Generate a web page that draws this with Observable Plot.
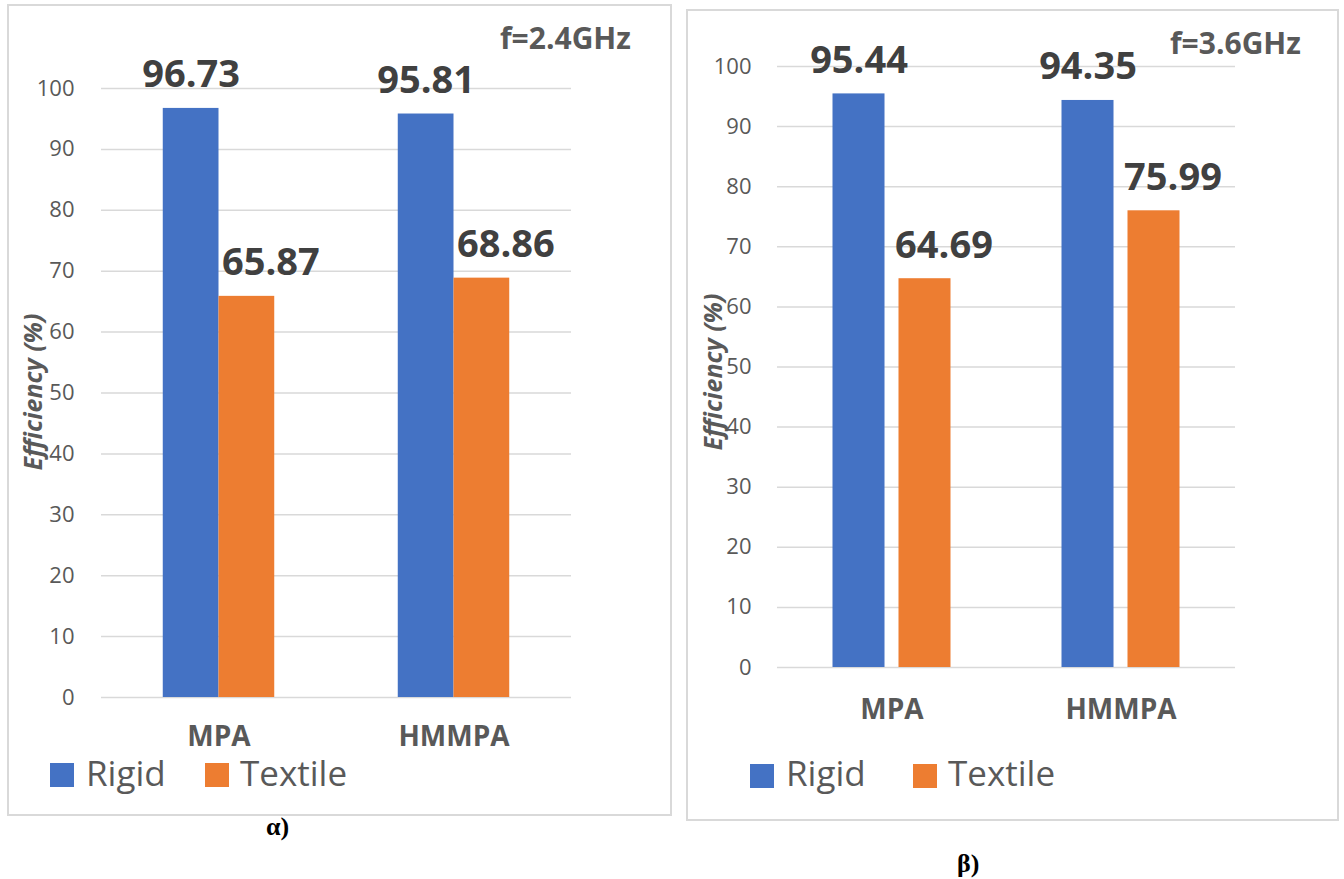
<!DOCTYPE html>
<html><head><meta charset="utf-8">
<script src="https://cdn.jsdelivr.net/npm/d3@7"></script>
<script src="https://cdn.jsdelivr.net/npm/@observablehq/plot@0.6"></script>
<style>
body{margin:0;background:#fff;font-family:"Open Sans",sans-serif;}
#page{position:relative;width:1344px;height:879px;overflow:hidden;background:#fff;}
.panel{position:absolute;border:2px solid #d9d9d9;box-sizing:border-box;}
.abs{position:absolute;white-space:nowrap;line-height:1;}
.plot{position:absolute;}
</style></head>
<body><div id="page"></div>
<script>
const categories = ["MPA", "HMMPA"];
const seriesNames = ["Rigid", "Textile"];
const rigid24 = [96.73, 95.81];
const textile24 = [65.87, 68.86];
const rigid36 = [95.44, 94.35];
const textile36 = [64.69, 75.99];
const yTicks = [0, 10, 20, 30, 40, 50, 60, 70, 80, 90, 100];
const colors = ["#4472C4", "#ED7D31"];
const titles = ["f=2.4GHz", "f=3.6GHz"];
const captions = ["α)", "β)"];
const yLabel = "Efficiency (%)";

function rows(rigid, textile) {
  const out = [];
  categories.forEach((c, i) => {
    out.push({category: c, series: seriesNames[0], value: rigid[i]});
    out.push({category: c, series: seriesNames[1], value: textile[i]});
  });
  return out;
}

const page = document.getElementById("page");
function add(cls, css, text) {
  const d = document.createElement("div");
  d.className = cls;
  Object.assign(d.style, css);
  if (text != null) d.textContent = text;
  page.appendChild(d);
  return d;
}

const panels = [
  {data: rows(rigid24, textile24), title: titles[0], caption: captions[0],
   box: {left: 7, top: 4, width: 665, height: 812},
   svg: {left: 0, top: 0, width: 680, height: 770},
   margin: {left: 100, right: 109, top: 88, bottom: 73},
   xPad: {inner: 0, outer: 1.108}, tickPad: 27, fxPad: 29, textileDx: 24,
   titlePos: {left: 500, top: 23}, capPos: {left: 266, top: 814},
   yLab: {x: 32, y: 392},
   legend: {sq: [50, 205], tx: [86, 240], sqTop: 763, txTop: 755}},
  {data: rows(rigid36, textile36), title: titles[1], caption: captions[1],
   box: {left: 686, top: 9, width: 653, height: 812},
   svg: {left: 680, top: 0, width: 664, height: 740},
   margin: {left: 97, right: 109, top: 66, bottom: 73},
   xPad: {inner: 0.212, outer: 0.841}, tickPad: 26, fxPad: 32, textileDx: 19,
   titlePos: {left: 1170, top: 28}, capPos: {left: 957, top: 851},
   yLab: {x: 712, y: 372},
   legend: {sq: [750, 913], tx: [786, 948], sqTop: 764, txTop: 755}}
];

for (const p of panels) {
  add("panel", {left: p.box.left + "px", top: p.box.top + "px", width: p.box.width + "px", height: p.box.height + "px"});
  const chart = Plot.plot({
    width: p.svg.width,
    height: p.svg.height,
    marginLeft: p.margin.left,
    marginRight: p.margin.right,
    marginTop: p.margin.top,
    marginBottom: p.margin.bottom,
    style: {fontFamily: "Open Sans", background: "transparent", overflow: "visible"},
    fx: {domain: categories, padding: 0, label: null, axis: null},
    x: {domain: seriesNames, paddingInner: p.xPad.inner, paddingOuter: p.xPad.outer, axis: null, round: false},
    y: {domain: [0, 100], ticks: yTicks, axis: null},
    color: {domain: seriesNames, range: colors},
    marks: [
      Plot.ruleY(yTicks, {stroke: "#d9d9d9", strokeWidth: 1.5}),
      Plot.axisY({ticks: yTicks, tickSize: 0, tickPadding: p.tickPad, label: null, fontSize: 22, fill: "#595959", tickFormat: d => String(d)}),
      Plot.axisFx({anchor: "bottom", tickSize: 0, tickPadding: p.fxPad, label: null, fontSize: 28, fontWeight: "bold", fill: "#595959"}),
      Plot.barY(p.data, {fx: "category", x: "series", y: "value", fill: "series"}),
      Plot.text(p.data, {fx: "category", x: "series", y: "value", text: d => d.value.toFixed(2),
        lineAnchor: "bottom", dy: -21, fontSize: 38, fontWeight: "bold", fill: "#404040",
        filter: d => d.series === seriesNames[0]}),
      Plot.text(p.data, {fx: "category", x: "series", y: "value", text: d => d.value.toFixed(2),
        lineAnchor: "bottom", dy: -21, dx: p.textileDx, fontSize: 38, fontWeight: "bold", fill: "#404040",
        filter: d => d.series === seriesNames[1]})
    ]
  });
  chart.classList.add("plot");
  chart.style.left = p.svg.left + "px";
  chart.style.top = p.svg.top + "px";
  page.appendChild(chart);

  add("abs", {left: p.titlePos.left + "px", top: p.titlePos.top + "px", fontSize: "30px", fontWeight: "bold", color: "#595959"}, p.title);
  add("abs", {left: p.yLab.x + "px", top: p.yLab.y + "px", fontSize: "25px", fontWeight: "bold", fontStyle: "italic", color: "#595959",
    transform: "translate(-50%,-50%) rotate(-90deg)"}, yLabel);
  seriesNames.forEach((s, i) => {
    add("abs", {left: p.legend.sq[i] + "px", top: p.legend.sqTop + "px", width: "24px", height: "24px", background: colors[i]});
    add("abs", {left: p.legend.tx[i] + "px", top: p.legend.txTop + "px", fontSize: "35px", color: "#595959"}, s);
  });
  add("abs", {left: p.capPos.left + "px", top: p.capPos.top + "px", fontFamily: "'Liberation Serif', serif", fontSize: "26px", fontWeight: "bold", color: "#000"}, p.caption);
}
</script>
</body></html>
